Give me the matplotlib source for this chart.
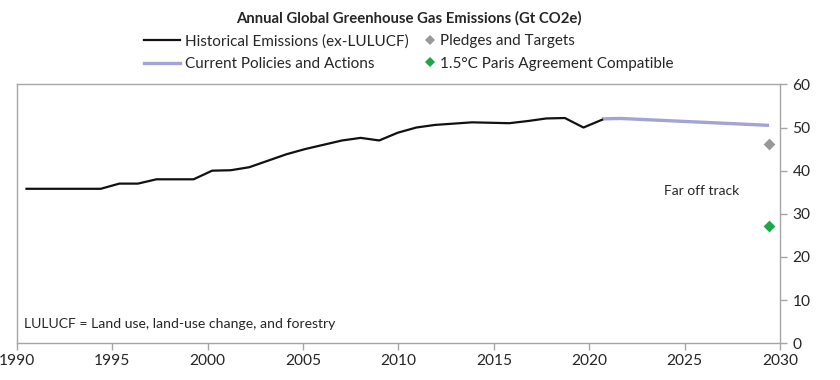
import matplotlib
matplotlib.use("Agg")
import matplotlib.pyplot as plt
from matplotlib.lines import Line2D

plt.rcParams['font.family'] = ['Lato', 'DejaVu Sans']

# historical emissions, ex-LULUCF (Gt CO2e)
hist_years = list(range(1990, 2022))
hist_vals = [35.8, 35.8, 35.8, 35.8, 35.8, 37.0, 37.0, 38.0, 38.0, 38.0,
             40.0, 40.1, 40.8, 42.3, 43.8, 45.0, 46.0, 47.0, 47.6, 47.0,
             48.8, 50.0, 50.6, 50.9, 51.2, 51.1, 51.0, 51.5, 52.1, 52.2,
             50.0, 51.8]

# current policies projection
proj_years = list(range(2021, 2031))
proj_vals = [52.0, 52.1, 51.9, 51.7, 51.5, 51.3, 51.1, 50.9, 50.7, 50.5]

target_year = 2030
pledges_val = 46.2
paris_val = 27.2

xticks = list(range(1990, 2031, 5))
yticks = list(range(0, 61, 10))

c_hist = '#111111'
c_proj = '#a3a3d6'
c_pledge = '#999999'
c_paris = '#1aa84a'
c_spine = '#a6a6a6'
c_text = '#262626'

fig = plt.figure(figsize=(8.4, 3.8), dpi=100)
ax = fig.add_axes([0.0202, 0.0966, 0.9084, 0.6814])
ax.set_xlim(1990, 2030)
ax.set_ylim(0, 60)
ax.set_xticks(xticks)
ax.set_yticks(yticks)
ax.yaxis.tick_right()
for s in ax.spines.values():
    s.set_color(c_spine)
    s.set_linewidth(1.0)
ax.tick_params(axis='both', direction='out', length=5, width=1.0, color=c_spine,
               labelsize=11.2, labelcolor=c_text)
ax.tick_params(axis='y', pad=4)
ax.tick_params(axis='x', pad=3)

# the series sit on their own, slightly offset year scale
dax = ax.twiny()
dax.set_xlim(1989.488, 2030.587)
dax.axis('off')

dax.plot(proj_years, proj_vals, color=c_proj, lw=2.4, solid_capstyle='butt', zorder=2)
dax.plot(hist_years, hist_vals, color=c_hist, lw=1.6, zorder=3)
dax.scatter([target_year], [pledges_val], marker='D', s=36, color=c_pledge, zorder=4, lw=0)
dax.scatter([target_year], [paris_val], marker='D', s=36, color=c_paris, zorder=4, lw=0)

dax.text(2028.37, 35.4, 'Far off track', ha='right', va='center', fontsize=10, color=c_text)
ax.text(0.009, 0.05, 'LULUCF = Land use, land-use change, and forestry',
        transform=ax.transAxes, ha='left', va='bottom', fontsize=10.1, color=c_text)

fig.text(0.487, 0.952, 'Annual Global Greenhouse Gas Emissions (Gt CO2e)',
         ha='center', va='center', fontsize=10.7, fontweight='bold', color=c_text)

# legend: lines in one column, markers in the other
line_handles = [Line2D([], [], color=c_hist, lw=1.6),
                Line2D([], [], color=c_proj, lw=2.4)]
line_labels = ['Historical Emissions (ex-LULUCF)', 'Current Policies and Actions']
mark_handles = [Line2D([], [], color=c_pledge, marker='D', ms=5.5, lw=0, markeredgewidth=0),
                Line2D([], [], color=c_paris, marker='D', ms=5.5, lw=0, markeredgewidth=0)]
mark_labels = ['Pledges and Targets', '1.5°C Paris Agreement Compatible']

leg_kw = dict(frameon=False, fontsize=11, handletextpad=0.33, labelspacing=0.56,
              borderpad=0, borderaxespad=0, loc='center left', labelcolor=c_text)
leg1 = fig.legend(line_handles, line_labels, bbox_to_anchor=(0.1714, 0.862),
                  handlelength=2.36, **leg_kw)
leg2 = fig.legend(mark_handles, mark_labels, bbox_to_anchor=(0.5055, 0.862),
                  handlelength=0.7, **leg_kw)

fig.savefig('out.png', dpi=100)
